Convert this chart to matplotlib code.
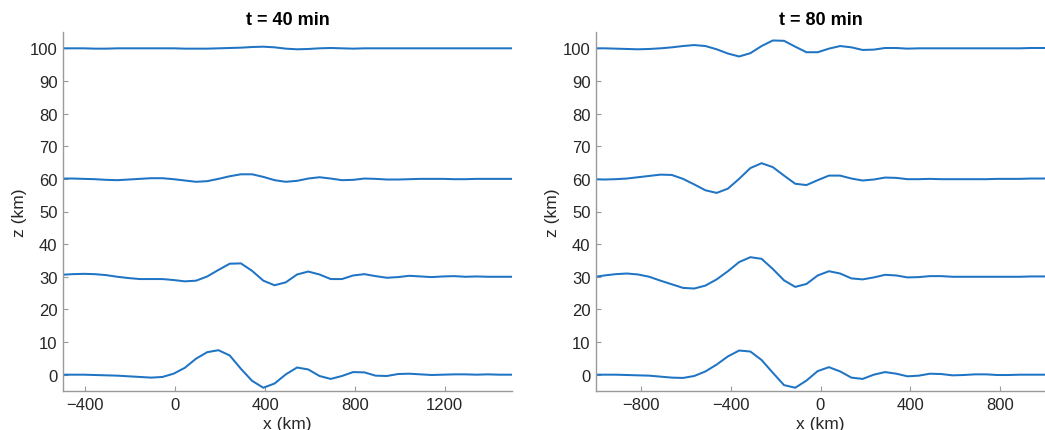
import numpy as np
import matplotlib
matplotlib.use("Agg")
import matplotlib.pyplot as plt

plt.rcParams['font.family'] = ['Liberation Sans', 'DejaVu Sans']

# Horizontal model grid (km), 50 km spacing
x_40 = np.arange(-507.5, 1550, 50)
x_80 = np.arange(-1012.5, 1050, 50)

# Displacement of material surfaces released at z = 0, 30, 60, 100 km
z0_40 = [0.0, 0.0, 0.0, -0.1, -0.2, -0.3, -0.5, -0.7, -0.9, -0.7,
         0.3, 2.1, 4.9, 6.9, 7.5, 5.9, 1.8, -1.9, -4.0, -2.7,
         0.1, 2.2, 1.6, -0.4, -1.3, -0.4, 0.8, 0.7, -0.3, -0.4,
         0.2, 0.3, 0.1, -0.1, 0.0, 0.1, 0.1, 0.0, 0.1, 0.0, 0.0, 0.0]
z30_40 = [30.6, 30.8, 30.9, 30.8, 30.5, 30.0, 29.6, 29.3, 29.3, 29.3,
          29.0, 28.6, 28.8, 30.1, 32.1, 34.0, 34.1, 31.8, 28.8, 27.4,
          28.3, 30.7, 31.6, 30.7, 29.3, 29.3, 30.4, 30.8, 30.2, 29.7,
          29.9, 30.3, 30.1, 29.9, 30.1, 30.2, 30.0, 30.1, 30.0, 30.0, 30.0, 30.0]
z60_40 = [60.1, 60.1, 60.0, 59.9, 59.7, 59.6, 59.8, 60.0, 60.2, 60.2,
          59.9, 59.5, 59.1, 59.3, 60.0, 60.8, 61.4, 61.4, 60.6, 59.6,
          59.1, 59.4, 60.1, 60.5, 60.1, 59.6, 59.7, 60.1, 60.0, 59.8,
          59.8, 59.9, 60.0, 60.0, 60.0, 59.9, 59.9, 60.0, 60.0, 60.0, 60.0, 60.0]
z100_40 = [100.0, 100.0, 100.0, 99.9, 99.9, 100.0, 100.0, 100.0, 100.0, 100.0,
           100.0, 99.9, 99.9, 99.9, 100.0, 100.1, 100.2, 100.4, 100.5, 100.3,
           99.9, 99.7, 99.8, 100.0, 100.1, 100.0, 99.9, 100.0, 100.0, 100.0,
           100.0, 100.0, 100.0, 100.0, 100.0, 100.0, 100.0, 100.0, 100.0, 100.0, 100.0, 100.0]

z0_80 = [0.0, 0.0, 0.0, -0.1, -0.2, -0.3, -0.6, -0.9, -1.0, -0.4,
         1.0, 3.1, 5.6, 7.4, 7.1, 4.5, 0.6, -3.2, -4.0, -1.8,
         1.1, 2.3, 1.0, -0.9, -1.3, 0.0, 0.8, 0.3, -0.5, -0.3,
         0.3, 0.2, -0.2, -0.1, 0.1, 0.1, -0.1, -0.1, 0.0, 0.0, 0.0, 0.0]
z30_80 = [29.9, 30.4, 30.8, 31.0, 30.7, 30.0, 28.8, 27.7, 26.6, 26.4,
          27.3, 29.2, 31.7, 34.5, 36.0, 35.5, 32.4, 28.9, 26.9, 27.8,
          30.4, 31.7, 31.0, 29.5, 29.2, 29.8, 30.6, 30.4, 29.8, 29.9,
          30.2, 30.2, 30.0, 30.0, 30.0, 30.0, 30.0, 30.0, 30.0, 30.1, 30.1, 30.1]
z60_80 = [59.9, 59.8, 59.9, 60.1, 60.5, 60.9, 61.3, 61.2, 60.0, 58.3,
          56.5, 55.7, 57.0, 60.0, 63.3, 64.8, 63.6, 61.0, 58.5, 58.1,
          59.6, 61.0, 61.0, 60.1, 59.5, 59.8, 60.4, 60.3, 59.9, 59.9,
          60.0, 59.9, 59.9, 59.9, 59.9, 59.9, 60.0, 60.0, 60.0, 60.1, 60.1, 60.2]
z100_80 = [100.0, 100.0, 99.9, 99.8, 99.7, 99.8, 100.0, 100.3, 100.7, 101.0,
           100.7, 99.7, 98.4, 97.5, 98.5, 100.7, 102.4, 102.3, 100.5, 98.8,
           98.8, 99.9, 100.7, 100.3, 99.5, 99.6, 100.1, 100.1, 99.9, 100.0,
           100.0, 100.0, 100.0, 100.0, 100.0, 100.0, 100.0, 100.0, 100.0, 100.1, 100.1, 100.1]

titles = ["t = 40 min", "t = 80 min"]
xticks_40 = [-400, 0, 400, 800, 1200]
xticks_80 = [-800, -400, 0, 400, 800]
yticks = list(range(0, 101, 10))

LINE = '#1f74c4'
AXC = '#9a9a9a'
TXT = '#262626'

fig = plt.figure(figsize=(10.45, 4.31), dpi=100)
W, H = 1045, 431
ax1 = fig.add_axes([63 / W, (H - 392) / H, 449 / W, 359 / H])
ax2 = fig.add_axes([596 / W, (H - 392) / H, 449 / W, 359 / H])

panels = [
    (ax1, x_40, [z0_40, z30_40, z60_40, z100_40], (-500, 1500), xticks_40, titles[0]),
    (ax2, x_80, [z0_80, z30_80, z60_80, z100_80], (-1000, 1000), xticks_80, titles[1]),
]

for ax, xg, surfaces, xl, xt, title in panels:
    for zs in surfaces:
        ax.plot(xg, zs, color=LINE, lw=1.45, solid_joinstyle='miter')
    ax.set_xlim(*xl)
    ax.set_ylim(-5, 105)
    ax.set_xticks(xt)
    ax.set_yticks(yticks)
    for s in ('top', 'right'):
        ax.spines[s].set_visible(False)
    for s in ('left', 'bottom'):
        ax.spines[s].set_color(AXC)
        ax.spines[s].set_linewidth(1.0)
    ax.tick_params(direction='in', length=3.5, width=0.8, color=AXC,
                   labelsize=12, labelcolor=TXT, pad=4)
    ax.set_xlabel('x (km)', fontsize=12.5, color=TXT, labelpad=3)
    ax.set_ylabel('z (km)', fontsize=12.5, color=TXT, labelpad=2)
    ax.set_title(title, fontsize=13, fontweight='bold', color='black', pad=6)

fig.savefig('out.png', dpi=100)
